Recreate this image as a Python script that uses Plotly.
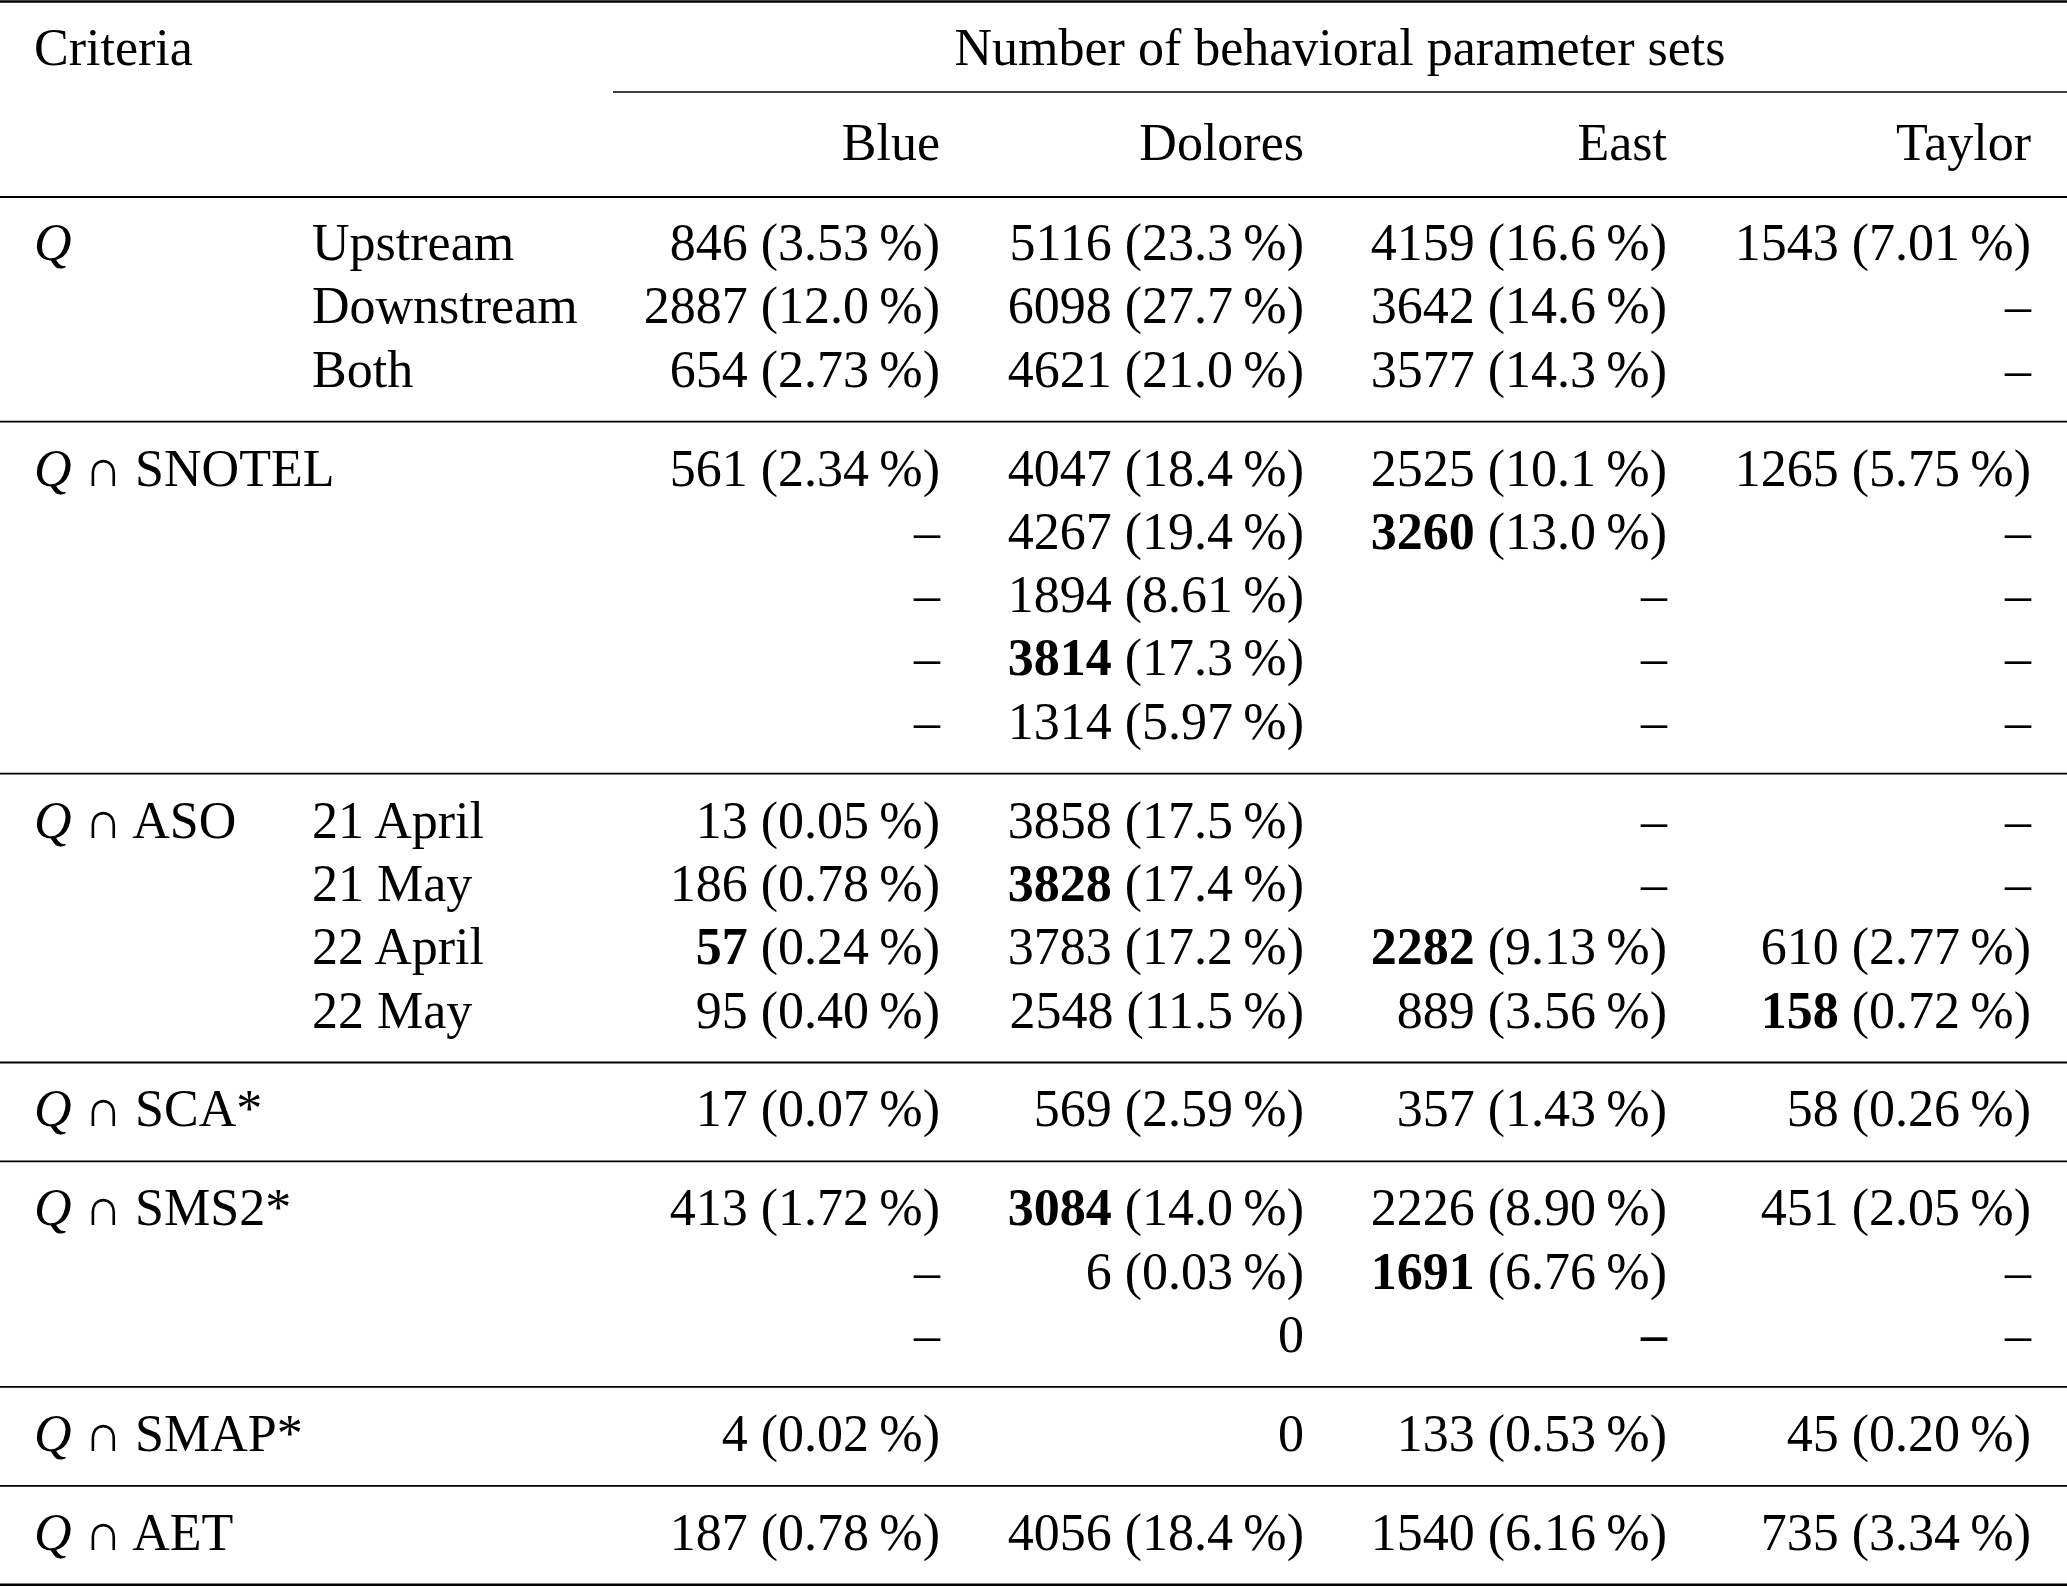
import plotly.graph_objects as go

# --- table content ---
BASINS = ["Blue", "Dolores", "East", "Taylor"]
HEADER_LEFT = "Criteria"
HEADER_SPAN = "Number of behavioral parameter sets"

# criteria groups: (label, sub-rows)
GROUP_LABELS = ["<i>Q</i>", "<i>Q</i> ∩ SNOTEL", "<i>Q</i> ∩ ASO", "<i>Q</i> ∩ SCA*",
                "<i>Q</i> ∩ SMS2*", "<i>Q</i> ∩ SMAP*", "<i>Q</i> ∩ AET"]
GROUP_ROWS = [
    ["Upstream", "Downstream", "Both"],
    ["", "", "", "", ""],
    ["21 April", "21 May", "22 April", "22 May"],
    [""],
    ["", "", ""],
    [""],
    [""],
]

# counts per basin (None = not available), percentages kept as printed
BLUE_N = [846, 2887, 654, 561, None, None, None, None, 13, 186, 57, 95, 17, 413, None, None, 4, 187]
BLUE_PCT = ["3.53", "12.0", "2.73", "2.34", None, None, None, None, "0.05", "0.78", "0.24", "0.40",
            "0.07", "1.72", None, None, "0.02", "0.78"]
DOLORES_N = [5116, 6098, 4621, 4047, 4267, 1894, 3814, 1314, 3858, 3828, 3783, 2548, 569, 3084, 6, 0, 0, 4056]
DOLORES_PCT = ["23.3", "27.7", "21.0", "18.4", "19.4", "8.61", "17.3", "5.97", "17.5", "17.4", "17.2", "11.5",
               "2.59", "14.0", "0.03", None, None, "18.4"]
EAST_N = [4159, 3642, 3577, 2525, 3260, None, None, None, None, None, 2282, 889, 357, 2226, 1691, None, 133, 1540]
EAST_PCT = ["16.6", "14.6", "14.3", "10.1", "13.0", None, None, None, None, None, "9.13", "3.56",
            "1.43", "8.90", "6.76", None, "0.53", "6.16"]
TAYLOR_N = [1543, None, None, 1265, None, None, None, None, None, None, 610, 158, 58, 451, None, None, 45, 735]
TAYLOR_PCT = ["7.01", None, None, "5.75", None, None, None, None, None, None, "2.77", "0.72",
              "0.26", "2.05", None, None, "0.20", "3.34"]

# highlighted cells (row index, basin index)
HIGHLIGHT = [(4, 2), (6, 1), (9, 1), (10, 0), (10, 2), (11, 3), (13, 1), (14, 2), (15, 2)]

# --- layout (pixels) ---
W, H = 2067, 1587
FONT = "Liberation Serif"
FS = 52
LABEL_X = 34
SUB_X = 312
BASIN_RIGHT = [940, 1304, 1667, 2031]
SPAN_X0 = 613
HEAD1_Y, HEAD2_Y, SPAN_RULE_Y, HEAD_RULE_Y = 47, 142, 92, 197
FIRST_ROW_Y = 242.5
PITCH = 63.3
GROUP_GAP = 98.9
RULE_OFFSET = 52.5
TEXT_DY = 4.5   # plotly "middle" sits a bit above the cap-height centre

# row centres
row_y, group_first, group_last = [], [], []
y = FIRST_ROW_Y
for g, rows in enumerate(GROUP_ROWS):
    if g > 0:
        y += GROUP_GAP - PITCH
    group_first.append(y)
    for r in rows:
        row_y.append(y)
        y += PITCH
    group_last.append(y - PITCH)


def cell(n, pct, bold):
    if n is None:
        txt = "–"
        return f"<b>{txt}</b>" if bold else txt
    num = f"<b>{n}</b>" if bold else str(n)
    if pct is None:
        return num
    return f"{num} ({pct}\u2009%)"


columns = [(BLUE_N, BLUE_PCT), (DOLORES_N, DOLORES_PCT), (EAST_N, EAST_PCT), (TAYLOR_N, TAYLOR_PCT)]

fig = go.Figure()
font = dict(family=FONT, size=FS, color="black")


def add_text(xs, ys, texts, pos):
    fig.add_trace(go.Scatter(x=xs, y=[v + TEXT_DY for v in ys], text=texts, mode="text",
                             textposition=pos, textfont=font, hoverinfo="skip", showlegend=False))


# header
add_text([LABEL_X], [HEAD1_Y], [HEADER_LEFT], "middle right")
add_text([(SPAN_X0 + W) / 2], [HEAD1_Y], [HEADER_SPAN], "middle center")
add_text(BASIN_RIGHT, [HEAD2_Y] * 4, BASINS, "middle left")

# criteria labels
add_text([LABEL_X] * len(GROUP_LABELS), group_first, GROUP_LABELS, "middle right")
subs = [s for rows in GROUP_ROWS for s in rows]
add_text([SUB_X] * len(subs), row_y, subs, "middle right")

# values
for b, (ns, pcts) in enumerate(columns):
    texts = [cell(n, p, (i, b) in HIGHLIGHT) for i, (n, p) in enumerate(zip(ns, pcts))]
    add_text([BASIN_RIGHT[b]] * len(texts), row_y, texts, "middle left")

# rules
def rule(y0, x0=0, width=1.8):
    fig.add_shape(type="line", xref="x", yref="y", x0=x0, x1=W, y0=y0, y1=y0,
                  line=dict(color="black", width=width))


rule(1.5, width=2.6)
rule(SPAN_RULE_Y, x0=SPAN_X0, width=1.6)
rule(HEAD_RULE_Y)
for i, yl in enumerate(group_last):
    if i < len(group_last) - 1:
        rule(yl + RULE_OFFSET)
    else:
        rule(min(yl + RULE_OFFSET, H - 1.5), width=2.6)

fig.update_layout(
    width=W, height=H, margin=dict(l=0, r=0, t=0, b=0),
    paper_bgcolor="white", plot_bgcolor="white",
    xaxis=dict(range=[0, W], visible=False, fixedrange=True),
    yaxis=dict(range=[H, 0], visible=False, fixedrange=True),
)

fig.write_html("out.html", config={"displayModeBar": False},
               post_script="document.body.style.margin='0';document.body.style.overflow='hidden';")
